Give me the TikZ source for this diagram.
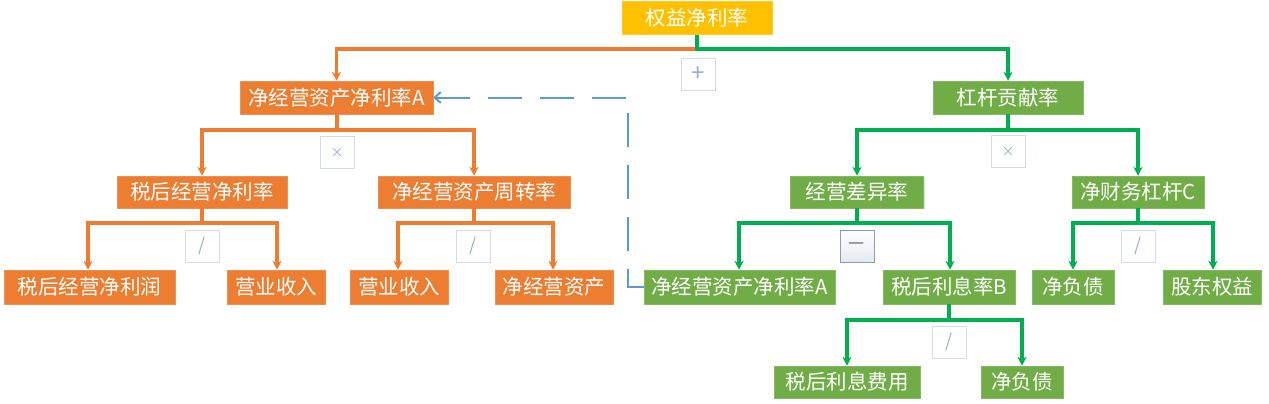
\documentclass[tikz,border=0pt]{standalone}
\usepackage{fontspec}
\setmainfont{Noto Sans CJK SC}
\usetikzlibrary{arrows.meta,shadows}
\definecolor{obox}{HTML}{ED7D31}
\definecolor{gbox}{HTML}{70AD47}
\definecolor{gline}{HTML}{00B050}
\definecolor{ybox}{HTML}{FFC000}
\definecolor{bdash}{HTML}{5B9BD5}
\definecolor{opborder}{HTML}{D3DCE8}
\definecolor{optext}{HTML}{9AAEC8}
\begin{document}
\begin{tikzpicture}[x=1pt,y=-1pt,
  boxbase/.style={inner sep=0pt, text=white, font=\fontsize{20.5}{24}\selectfont,
    drop shadow={opacity=0.25,shadow xshift=1pt,shadow yshift=-1pt}},
  obx/.style={boxbase, fill=obox, draw=obox!85!white, line width=0.5pt},
  gbx/.style={boxbase, fill=gbox, draw=gbox!85!white, line width=0.5pt},
  ybx/.style={boxbase, fill=ybox, draw=ybox!85!white, line width=0.5pt},
  opbox/.style={draw=opborder, fill=white, line width=0.8pt, minimum width=34pt, minimum height=32pt,
    inner sep=0pt, text=optext, font=\fontsize{18}{20}\selectfont},
  oline/.style={draw=obox, line width=3.2pt, -{Stealth[length=9pt,width=9pt]}},
  gline/.style={draw=gline, line width=3.2pt, -{Stealth[length=9pt,width=9pt]}},
  dashline/.style={draw=bdash, line width=2pt, dash pattern=on 34pt off 18pt, {Straight Barb[length=6pt,width=11pt]}-}
]
\useasboundingbox (0,0) rectangle (1269,404);

% root
\node[ybx, minimum width=150pt, minimum height=33pt] (root) at (697,18) {权益净利率};
% level 1
\node[obx, minimum width=193pt, minimum height=33pt] (la) at (336.5,97.5) {净经营资产净利率A};
\node[gbx, minimum width=150pt, minimum height=33pt] (lb) at (1008,97.5) {杠杆贡献率};
% level 2
\node[obx, minimum width=170pt, minimum height=32pt] (a) at (202,192) {税后经营净利率};
\node[obx, minimum width=192pt, minimum height=32pt] (b) at (474,192) {净经营资产周转率};
\node[gbx, minimum width=133pt, minimum height=32pt] (c) at (857,192) {经营差异率};
\node[gbx, minimum width=132pt, minimum height=32pt] (d) at (1138,192) {净财务杠杆C};
% level 3
\node[obx, minimum width=171pt, minimum height=34pt] (a1) at (89.5,287) {税后经营净利润};
\node[obx, minimum width=98pt, minimum height=34pt] (a2) at (276,287) {营业收入};
\node[obx, minimum width=98pt, minimum height=34pt] (b1) at (399,287) {营业收入};
\node[obx, minimum width=118pt, minimum height=34pt] (b2) at (554,287) {净经营资产};
\node[gbx, minimum width=191pt, minimum height=34pt] (c1) at (739.5,287) {净经营资产净利率A};
\node[gbx, minimum width=132pt, minimum height=34pt] (c2) at (949,287) {税后利息率B};
\node[gbx, minimum width=82pt, minimum height=34pt] (d1) at (1073,287) {净负债};
\node[gbx, minimum width=98pt, minimum height=34pt] (d2) at (1212,287) {股东权益};
% level 4
\node[gbx, minimum width=146pt, minimum height=32pt] (e1) at (847,382) {税后利息费用};
\node[gbx, minimum width=82pt, minimum height=32pt] (e2) at (1022,382) {净负债};

% operator boxes
\node[opbox] (opplus) at (698,74) {\fontsize{24}{24}\selectfont +};
\node[opbox] (optimesl) at (337,152.5) {\fontsize{13}{14}\selectfont ×};
\node[opbox] (optimesr) at (1008,151.5) {\fontsize{13}{14}\selectfont ×};
\node[opbox] (opdiva) at (202,246) {/};
\node[opbox] (opdivb) at (473,246) {/};
\node[opbox, draw=optext!90!black, top color=white, bottom color=opborder!60!white, text=optext!50!black] (opminus) at (857,246) {—};
\node[opbox] (opdivd) at (1138,246) {/};
\node[opbox] (opdive) at (949,342) {/};

% connectors
\coordinate (j0) at (697,49);
\draw[oline] (root.south) -- (j0) -| (la.north);
\draw[gline] (root.south) -- (j0) -| (lb.north);

\coordinate (j1) at (337,130);
\draw[oline] (la.south -| j1) -- (j1) -| (a.north);
\draw[oline] (la.south -| j1) -- (j1) -| (b.north);

\coordinate (j2) at (1008,130);
\draw[gline] (lb.south) -- (j2) -| (c.north);
\draw[gline] (lb.south) -- (j2) -| (d.north);

\coordinate (j3) at (202,223);
\draw[oline] (a.south) -- (j3) -| (a1.north -| 88,0);
\draw[oline] (a.south) -- (j3) -| (a2.north -| 277,0);

\coordinate (j4) at (474,223);
\draw[oline] (b.south) -- (j4) -| (b1.north -| 398,0);
\draw[oline] (b.south) -- (j4) -| (b2.north -| 553,0);

\coordinate (j5) at (857,223);
\draw[gline] (c.south) -- (j5) -| (c1.north -| 739,0);
\draw[gline] (c.south) -- (j5) -| (c2.north -| 950,0);

\coordinate (j6) at (1138,223);
\draw[gline] (d.south) -- (j6) -| (d1.north -| 1073,0);
\draw[gline] (d.south) -- (j6) -| (d2.north -| 1213,0);

\coordinate (j7) at (949,320);
\draw[gline] (c2.south) -- (j7) -| (e1.north);
\draw[gline] (c2.south) -- (j7) -| (e2.north);

% dashed feedback
\coordinate (k1) at (628,287);
\coordinate (k2) at (628,97.5);
\draw[dashline] (la.east) -- (k2) -- (k1) -- (c1.west);
\end{tikzpicture}
\end{document}
